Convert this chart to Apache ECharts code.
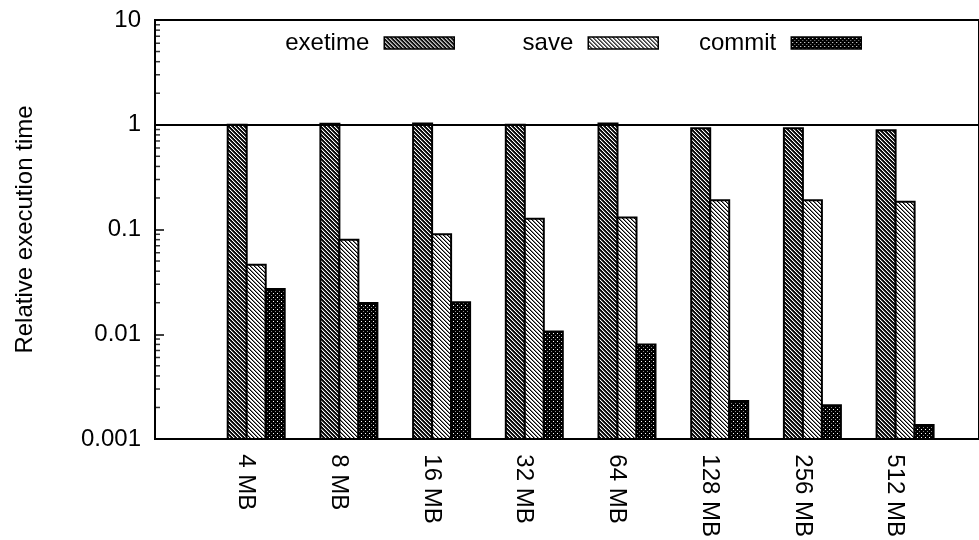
<!DOCTYPE html>
<html>
<head>
<meta charset="utf-8">
<script src="https://cdn.jsdelivr.net/npm/echarts@6/dist/echarts.min.js"></script>
<style>
html,body{margin:0;padding:0;background:#fff;}
#chart{width:979px;height:540px;}
</style>
</head>
<body>
<div id="chart"></div>
<script>
// ---- data ----
const categories = ['4 MB', '8 MB', '16 MB', '32 MB', '64 MB', '128 MB', '256 MB', '512 MB'];
const seriesNames = ['exetime', 'save', 'commit'];
const exetime = [1.00, 1.02, 1.03, 1.00, 1.03, 0.925, 0.925, 0.885];
const save    = [0.046, 0.080, 0.090, 0.127, 0.130, 0.190, 0.190, 0.184];
const commit  = [0.027, 0.0199, 0.0202, 0.0106, 0.0080, 0.0023, 0.0021, 0.00136];
const yTickValues = [0.001, 0.01, 0.1, 1, 10];
const yTickLabels = ['0.001', '0.01', '0.1', '1', '10'];
const yTitle = 'Relative execution time';

// minor tick positions (2..9 in each decade)
const minorTicks = [];
for (let d = 0; d < yTickValues.length - 1; d++) {
  for (let k = 2; k <= 9; k++) minorTicks.push([0, yTickValues[d] * k]);
}

// ---- fill patterns ----
function pattern(bg, pts) {
  const c = document.createElement('canvas');
  c.width = 4; c.height = 4;
  const ctx = c.getContext('2d');
  ctx.fillStyle = bg; ctx.fillRect(0, 0, 4, 4);
  pts.forEach(p => { ctx.fillStyle = p[2]; ctx.fillRect(p[0], p[1], 1, 1); });
  return { image: c, repeat: 'repeat' };
}
const patExetime = pattern('#0a0a0a', [[0,0,'#fff'],[1,1,'#fff'],[2,2,'#fff'],[3,3,'#fff'],[1,0,'#555'],[2,1,'#555'],[3,2,'#555'],[0,3,'#555']]);
const patSave = pattern('#fff', [[0,0,'#000'],[1,1,'#000'],[2,2,'#000'],[3,3,'#000'],[1,0,'#888'],[2,1,'#888'],[3,2,'#888'],[0,3,'#888']]);
const patCommit = pattern('#000', [[1,1,'#fff'],[3,3,'#888']]);
const patterns = [patExetime, patSave, patCommit];
const values = [exetime, save, commit];

const FONT = "'Liberation Sans', Arial, Helvetica, sans-serif";
const chart = echarts.init(document.getElementById('chart'), null, { renderer: 'canvas' });

const Y_MIN = yTickValues[0], Y_MAX = yTickValues[yTickValues.length - 1];
const logAxisBase = { type: 'log', logBase: 10, min: Y_MIN, max: Y_MAX };
const catW = 92.7;
const barW = 19;
const plotTop = 20, plotH = 419;

function makeRender(i) {
  return function (params, api) {
    const c = api.value(0), v = api.value(1);
    const pTop = api.coord([c, v]);
    const pBase = api.coord([c, Y_MIN]);
    const x = pTop[0] + (i - 1) * barW - barW / 2;
    return {
      type: 'rect',
      shape: { x: x, y: pTop[1], width: barW, height: pBase[1] - pTop[1] },
      style: { fill: patterns[i], stroke: '#000', lineWidth: 2 }
    };
  };
}

const option = {
  animation: false,
  backgroundColor: '#fff',
  textStyle: { fontFamily: FONT, color: '#000' },
  grid: [
    { left: 155, top: plotTop, width: 860, height: plotH, show: true, borderColor: '#000', borderWidth: 2, backgroundColor: 'transparent' },
    { left: 256.2 - catW / 2, top: plotTop, width: catW * 8, height: plotH },
    { left: 246 - catW / 2, top: plotTop, width: catW * 8, height: plotH }
  ],
  xAxis: [
    { gridIndex: 0, type: 'value', min: 0, max: 1, show: false },
    { gridIndex: 1, type: 'category', data: categories, show: false },
    { gridIndex: 2, type: 'category', data: categories,
      axisLine: { show: false }, axisTick: { show: false },
      axisLabel: { rotate: -90, margin: 16, fontSize: 24, color: '#000', fontFamily: FONT, interval: 0 } }
  ],
  yAxis: [
    Object.assign({}, logAxisBase, {
      gridIndex: 0,
      name: yTitle, nameLocation: 'middle', nameGap: 118,
      nameTextStyle: { fontSize: 24, color: '#000', fontFamily: FONT },
      axisLine: { show: true, lineStyle: { color: '#000', width: 2 } },
      axisTick: { show: true, inside: true, length: 9, lineStyle: { color: '#000', width: 1.5 } },
      axisLabel: { fontSize: 24, color: '#000', margin: 14, fontFamily: FONT,
        formatter: v => { const i = yTickValues.findIndex(t => Math.abs(t - v) / t < 1e-6); return i >= 0 ? yTickLabels[i] : ''; } },
      splitLine: { show: false }
    }),
    Object.assign({}, logAxisBase, { gridIndex: 1, show: false }),
    Object.assign({}, logAxisBase, { gridIndex: 2, show: false })
  ],
  legend: seriesNames.map((n, i) => ({
    data: [{ name: n, icon: 'rect', itemStyle: { color: patterns[i], borderColor: '#000', borderWidth: 1.5 } }],
    right: [524, 320, 117][i], top: 31, padding: 0,
    align: 'right', itemWidth: 70, itemHeight: 12, selectedMode: false,
    textStyle: { fontSize: 24, color: '#000', fontFamily: FONT, padding: [0, 10, 0, 0] }
  })),
  series: [
    {
      type: 'scatter', xAxisIndex: 0, yAxisIndex: 0, silent: true,
      data: minorTicks, symbol: 'rect', symbolSize: [5, 1.5], symbolOffset: [2.5, 0],
      itemStyle: { color: '#000' },
      markLine: { silent: true, symbol: 'none', label: { show: false },
        lineStyle: { color: '#000', width: 2, type: 'solid' }, data: [{ yAxis: 1 }] }
    }
  ].concat(seriesNames.map((n, i) => ({
    name: n, type: 'custom', xAxisIndex: 1, yAxisIndex: 1, silent: true, clip: true,
    encode: { x: 0, y: 1 },
    data: values[i].map((v, k) => [k, v]),
    itemStyle: { color: patterns[i], borderColor: '#000', borderWidth: 1.5 },
    renderItem: makeRender(i)
  })))
};
chart.setOption(option);
</script>
</body>
</html>
